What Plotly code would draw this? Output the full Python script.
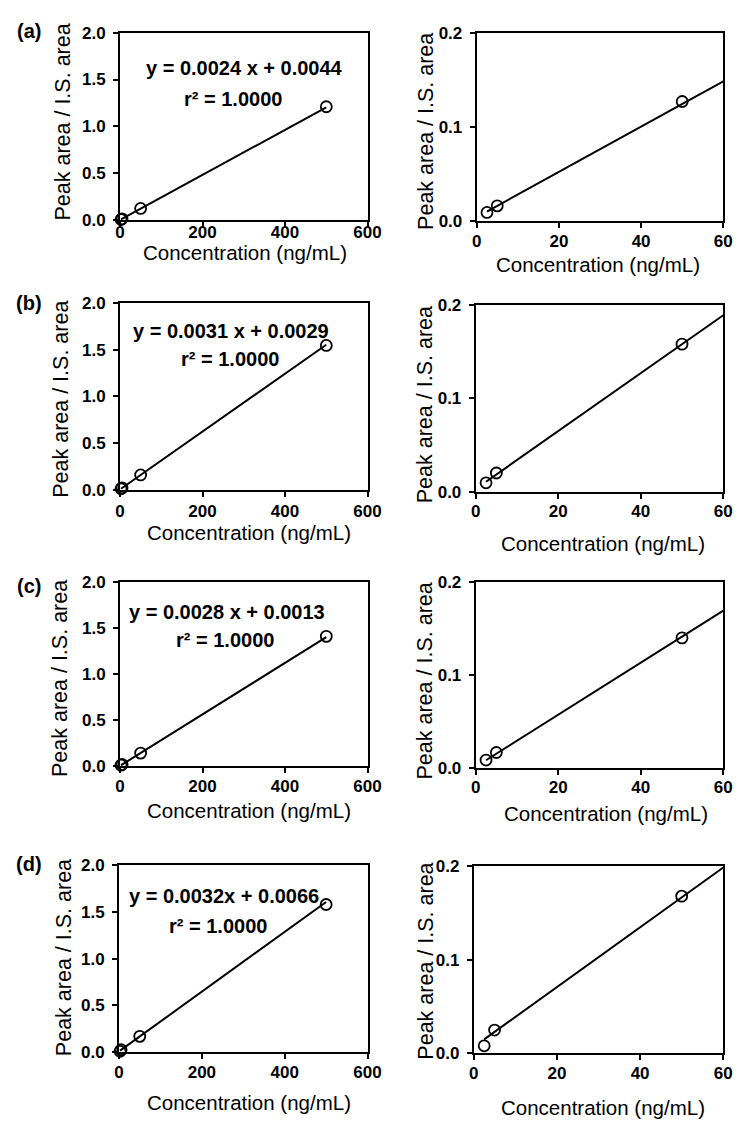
import plotly.graph_objects as go

# ---------------- data ----------------
conc = [2.5, 5, 50, 500]
panel_labels = ["(a)", "(b)", "(c)", "(d)"]
ratio_a = [0.0094, 0.0164, 0.127, 1.21]
ratio_b = [0.0095, 0.0200, 0.158, 1.545]
ratio_c = [0.0085, 0.0166, 0.140, 1.41]
ratio_d = [0.0077, 0.0246, 0.168, 1.58]
slopes = [0.0024, 0.0031, 0.0028, 0.0032]
intercepts = [0.0044, 0.0029, 0.0013, 0.0066]
equations = ["y = 0.0024 x + 0.0044", "y = 0.0031 x + 0.0029",
             "y = 0.0028 x + 0.0013", "y = 0.0032x + 0.0066"]
r2_texts = ["r\u00b2 = 1.0000"] * 4
x_title = "Concentration (ng/mL)"
y_title = "Peak area / I.S. area"
left_xticks = [0, 200, 400, 600]
right_xticks = [0, 20, 40, 60]
left_yticks = [0.0, 0.5, 1.0, 1.5, 2.0]
right_yticks = [0.0, 0.1, 0.2]
left_line_x = [2.5, 500]
right_line_x = [2.5, 60]

series = [ratio_a, ratio_b, ratio_c, ratio_d]

# ---------------- layout geometry (pixels) ----------------
W, H = 748, 1123
FONT = "Arial, Liberation Sans, sans-serif"
# (x0, x1, y0_top, y1_bottom)
left_boxes = [(118, 372, 24, 215), (118, 372, 299, 489), (118, 372, 583, 770), (117, 372, 871, 1061)]
right_boxes = [(484, 737, 24, 216), (483, 737, 301, 491), (483, 737, 583, 772), (481, 737, 872, 1062)]
left_ytitle = [(60, 115), (58, 397), (57, 681), (60, 965)]
right_ytitle = [(432, 125), (431, 403), (431, 684), (432, 969)]
left_xtitle = [(246, 248), (250, 533), (250, 815), (250, 1112)]
right_xtitle = [(608, 260), (614, 544), (617, 818), (614, 1117)]
left_xlab_sd = [-10, 0, -1, -1]
right_xlab_sd = [-2, -2, -2, -1]
eq_pos = [(246, 60), (232, 328), (228, 613), (225, 902)]
r2_pos = [(234, 92), (231, 356), (226, 642), (219, 933)]
lab_pos = [(25, 22), (25, 299), (25, 587), (25, 870)]


def px(x):
    return x / W


def py(y):
    return 1 - y / H


fig = go.Figure()
layout = dict(width=W, height=H, margin=dict(l=0, r=0, t=0, b=0),
              paper_bgcolor="white", plot_bgcolor="white", showlegend=False,
              font=dict(family=FONT, color="black"))
annotations = []


def axis_common():
    return dict(showline=True, linecolor="black", linewidth=2, mirror=True,
                ticks="outside", ticklen=5, tickwidth=2, tickcolor="black",
                showgrid=False, zeroline=False,
                tickfont=dict(family=FONT, size=17, color="black", weight="bold"))


idx = 0
for r in range(4):
    for side in ("L", "R"):
        idx += 1
        xs = "x" if idx == 1 else f"x{idx}"
        ys = "y" if idx == 1 else f"y{idx}"
        xk = "xaxis" if idx == 1 else f"xaxis{idx}"
        yk = "yaxis" if idx == 1 else f"yaxis{idx}"
        vals = series[r]
        if side == "L":
            box = left_boxes[r]
            xv, yv = conc, vals
            lx = left_line_x
            xr, yr = [0, 600], [0, 2.0]
            xt, yt = left_xticks, left_yticks
            sd = left_xlab_sd[r]
            ytp, xtp = left_ytitle[r], left_xtitle[r]
        else:
            box = right_boxes[r]
            xv, yv = conc[:3], vals[:3]
            lx = right_line_x
            xr, yr = [0, 60], [0, 0.2]
            xt, yt = right_xticks, right_yticks
            sd = right_xlab_sd[r]
            ytp, xtp = right_ytitle[r], right_xtitle[r]
        ly = [slopes[r] * v + intercepts[r] for v in lx]
        fig.add_trace(go.Scatter(x=lx, y=ly, mode="lines", xaxis=xs, yaxis=ys,
                                 line=dict(color="black", width=2), cliponaxis=False))
        fig.add_trace(go.Scatter(x=xv, y=yv, mode="markers", xaxis=xs, yaxis=ys,
                                 cliponaxis=False,
                                 marker=dict(symbol="circle-open", size=11, color="black",
                                             line=dict(width=1.8, color="black"))))
        xa = axis_common()
        xa.update(domain=[px(box[0]), px(box[1])], range=xr, anchor=ys,
                  tickvals=xt, ticktext=[str(t) for t in xt], ticklabelstandoff=sd)
        ya = axis_common()
        ya.update(domain=[py(box[3]), py(box[2])], range=yr, anchor=xs,
                  tickvals=yt, ticktext=[f"{t:.1f}" for t in yt], ticklabelstandoff=4)
        layout[xk] = xa
        layout[yk] = ya
        annotations.append(dict(text=y_title, x=px(ytp[0]), y=py(ytp[1]), xref="paper", yref="paper",
                                textangle=-90, showarrow=False, xanchor="center", yanchor="middle",
                                font=dict(family=FONT, size=21.5, color="black")))
        annotations.append(dict(text=x_title, x=px(xtp[0]), y=py(xtp[1]), xref="paper", yref="paper",
                                showarrow=False, xanchor="center", yanchor="middle",
                                font=dict(family=FONT, size=20.5, color="black")))
    annotations.append(dict(text=equations[r], x=px(eq_pos[r][0]), y=py(eq_pos[r][1]),
                            xref="paper", yref="paper", showarrow=False,
                            xanchor="center", yanchor="middle",
                            font=dict(family=FONT, size=20, color="black", weight="bold")))
    annotations.append(dict(text=r2_texts[r], x=px(r2_pos[r][0]), y=py(r2_pos[r][1]),
                            xref="paper", yref="paper", showarrow=False,
                            xanchor="center", yanchor="middle",
                            font=dict(family=FONT, size=20, color="black", weight="bold")))
    annotations.append(dict(text=panel_labels[r], x=px(lab_pos[r][0]), y=py(lab_pos[r][1]),
                            xref="paper", yref="paper", showarrow=False,
                            xanchor="center", yanchor="middle",
                            font=dict(family=FONT, size=20, color="black", weight="bold")))

layout["annotations"] = annotations
fig.update_layout(**layout)
fig.write_html("out.html")
